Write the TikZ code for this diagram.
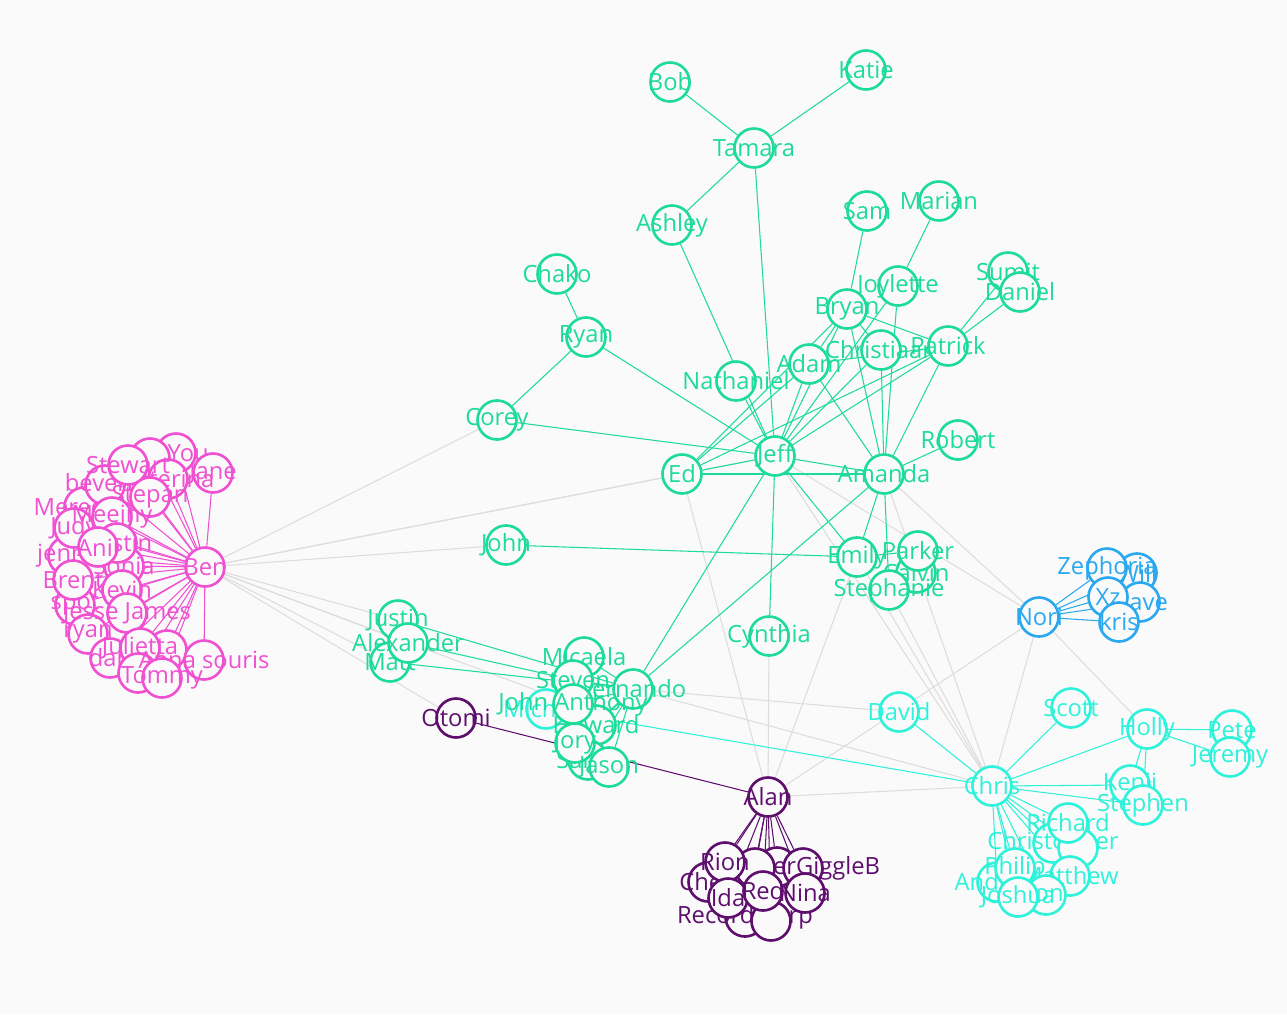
\documentclass[tikz,border=0pt]{standalone}
\usepackage{fontspec}
\setmainfont{Open Sans}
\usepackage{tikz}
\usetikzlibrary{positioning}
\definecolor{paper}{HTML}{FAFAFA}
\definecolor{grnc}{HTML}{1DDB99}
\definecolor{pnkc}{HTML}{F050D2}
\definecolor{prpc}{HTML}{5E0F6E}
\definecolor{cync}{HTML}{2EF2DA}
\definecolor{bluc}{HTML}{2AA8F0}
\definecolor{tiec}{HTML}{DDDDDD}
\newcommand\namefont{\fontsize{13.5}{16}\selectfont}
\pgfdeclarelayer{paperlayer}
\pgfdeclarelayer{tielayer}
\pgfsetlayers{paperlayer,tielayer,main}

\begin{document}
\begin{tikzpicture}[x=0.02cm, y=-0.02cm,
  person/.style={circle, draw=#1, text=#1, fill=paper, minimum size=0.78cm,
    inner sep=0pt, line width=1.5pt, font=\namefont,
    execute at begin node={\hbox to 0pt\bgroup\hss},
    execute at end node={\hss\egroup}},
  greenp/.style={person=grnc}, pinkp/.style={person=pnkc},
  purplep/.style={person=prpc}, cyanp/.style={person=cync},
  bluep/.style={person=bluc},
  tie/.style={draw=#1, line width=0.6pt},
  greentie/.style={tie=grnc}, pinktie/.style={tie=pnkc},
  purpletie/.style={tie=prpc}, cyantie/.style={tie=cync},
  bluetie/.style={tie=bluc}, greytie/.style={tie=tiec}]
\useasboundingbox (0,0) rectangle (1287,1014);
\begin{pgfonlayer}{paperlayer}
\fill[paper] (0,0) rectangle (1287,1014);
\end{pgfonlayer}

% green group, top
\node[greenp] (bob) at (670,82) {Bob};
\node[greenp] (katie) at (866,70) {Katie};
\node[greenp] (tamara) at (754,148) {Tamara};
\node[greenp] (ashley) at (672,225) {Ashley};
\node[greenp] (sam) at (867,211) {Sam};
\node[greenp] (marian) at (939,201) {Marian};
\node[greenp] (chako) at (557,274) {Chako};
\node[greenp] (ryan) at (586,337) {Ryan};
\node[greenp] (sumit) at (1008,272) {Sumit};
\node[greenp] (daniel) at (1020,292) {Daniel};
\node[greenp] (joylette) at (898,286) {Joylette};
\node[greenp] (bryan) at (847,309) {Bryan};
\node[greenp] (christiaan) at (881,350) {Christiaan};
\node[greenp] (adam) at (809,364) {Adam};
\node[greenp] (patrick) at (948,346) {Patrick};
\node[greenp] (nathaniel) at (736,381) {Nathaniel};
\node[greenp] (corey) at (497,420) {Corey};
\node[greenp] (robert) at (958,440) {Robert};
\node[greenp] (jeff) at (775,456) {Jeff};
\node[greenp] (ed) at (682,474) {Ed};
\node[greenp] (amanda) at (884,474) {Amanda};
\node[greenp] (john) at (506,545) {John};
\node[greenp] (calvin) at (916,573) {Calvin};
\node[greenp] (parker) at (918,551) {Parker};
\node[greenp] (emily) at (857,557) {Emily};
\node[greenp] (stephanie) at (889,590) {Stephanie};
\node[greenp] (cynthia) at (769,636) {Cynthia};

% green group, bottom left
\node[greenp] (justin) at (398,620) {Justin};
\node[greenp] (matt) at (390,662) {Matt};
\node[greenp] (alexander) at (408,643) {Alexander};
\node[greenp] (fernando) at (633,689) {Fernando};
\node[greenp] (micaela) at (584,657) {Micaela};
\node[cyanp] (michael) at (546,709) {Michael};
\node[greenp] (howard) at (596,725) {Howard};
\node[greenp] (sarah) at (588,760) {Sarah};
\node[greenp] (steven) at (573,680) {Steven};
\node[greenp] (jory) at (575,743) {Jory};
\node[greenp] (jason) at (609,767) {Jason};
\node[greenp] (johnanthony) at (573,704) {John Anthony};

% pink group
\node[pinkp] (liyou) at (176,453) {Li You};
\node[pinkp] (pblank) at (150,458) {};
\node[pinkp] (meredith) at (84,507) {Meredith};
\node[pinkp] (beverly) at (105,485) {beverly};
\node[pinkp] (jane) at (213,473) {Jane};
\node[pinkp] (katerina) at (168,479) {Katerina};
\node[pinkp] (stepan) at (150,497) {Stepan};
\node[pinkp] (stewart) at (128,465) {Stewart};
\node[pinkp] (jenna) at (68,556) {jenna};
\node[pinkp] (judy) at (74,528) {Judy};
\node[pinkp] (meejny) at (112,517) {Meejny};
\node[pinkp] (sonia) at (124,566) {Sonia};
\node[pinkp] (kristin) at (117,543) {Kristin};
\node[pinkp] (anil) at (98,547) {Anil};
\node[pinkp] (spot) at (75,605) {spot};
\node[pinkp] (brent) at (73,580) {Brent};
\node[pinkp] (kevin) at (122,590) {Kevin};
\node[pinkp] (ryanp) at (88,634) {ryan};
\node[pinkp] (jessejames) at (127,613) {Jesse James};
\node[pinkp] (dan) at (110,658) {dan};
\node[pinkp] (pblankb) at (167,650) {};
\node[pinkp] (julietta) at (140,648) {Julietta};
\node[pinkp] (pblankc) at (138,673) {};
\node[pinkp] (annasouris) at (204,660) {Anna souris};
\node[pinkp] (tommy) at (162,678) {Tommy};
\node[pinkp] (ben) at (205,567) {Ben};

% purple group
\node[purplep] (otomi) at (456,718) {Otomi};
\node[purplep] (chen) at (708,882) {Chen};
\node[purplep] (ublankb) at (777,867) {};
\node[purplep] (giggle) at (803,868) {MisterGiggleB};
\node[purplep] (ublank) at (755,868) {};
\node[purplep] (rion) at (725,862) {Rion};
\node[purplep] (record) at (745,917) {Record Carp};
\node[purplep] (ublankc) at (771,921) {};
\node[purplep] (ida) at (728,898) {Ida};
\node[purplep] (red) at (763,891) {Red};
\node[purplep] (nina) at (805,893) {Nina};
\node[purplep] (alan) at (768,797) {Alan};

% cyan group
\node[cyanp] (david) at (899,712) {David};
\node[cyanp] (scott) at (1071,708) {Scott};
\node[cyanp] (pete) at (1232,730) {Pete};
\node[cyanp] (jeremy) at (1230,757) {Jeremy};
\node[cyanp] (holly) at (1147,729) {Holly};
\node[cyanp] (kenji) at (1130,785) {Kenji};
\node[cyanp] (stephen) at (1143,805) {Stephen};
\node[cyanp] (christopher) at (1053,843) {Christopher};
\node[cyanp] (cblank) at (1078,848) {};
\node[cyanp] (richard) at (1068,823) {Richard};
\node[cyanp] (matthew) at (1070,876) {Matthew};
\node[cyanp] (andrew) at (997,882) {Andrew};
\node[cyanp] (philip) at (1015,868) {Philip};
\node[cyanp] (jon) at (1046,895) {Jon};
\node[cyanp] (joshua) at (1018,897) {Joshua};
\node[cyanp] (chris) at (992,786) {Chris};

% blue group
\node[bluep] (will) at (1137,573) {Will};
\node[bluep] (zephoria) at (1107,568) {Zephoria};
\node[bluep] (dave) at (1140,602) {Dave};
\node[bluep] (xz) at (1108,597) {Xz};
\node[bluep] (kris) at (1119,622) {kris};
\node[bluep] (nori) at (1039,617) {Nori};

% ties
\begin{pgfonlayer}{tielayer}
\foreach \a/\b in {ben/corey, ben/ed, ben/jeff, ben/john, ben/justin,
  ben/alexander, ben/matt, ben/otomi, ben/johnanthony, ed/alan,
  cynthia/alan, alan/emily, alan/nori, alan/chris, fernando/david,
  fernando/chris, emily/chris, stephanie/chris, amanda/chris,
  amanda/nori, jeff/nori, jeff/chris, nori/chris, nori/holly}
  \draw[greytie] (\a) -- (\b);
\foreach \a/\b in {bob/tamara, katie/tamara, tamara/jeff, ashley/tamara,
  ashley/jeff, nathaniel/jeff, chako/ryan, ryan/corey, ryan/jeff,
  corey/jeff, sam/bryan, marian/joylette, joylette/amanda, joylette/jeff,
  bryan/jeff, bryan/ed, bryan/amanda, bryan/patrick, bryan/christiaan,
  bryan/adam, adam/jeff, adam/ed, adam/amanda, adam/patrick,
  christiaan/jeff, christiaan/amanda, patrick/jeff, patrick/amanda,
  patrick/ed, sumit/patrick, daniel/patrick, robert/amanda, jeff/ed,
  jeff/amanda, ed/amanda, jeff/emily, jeff/cynthia, jeff/fernando,
  amanda/fernando, amanda/emily, amanda/stephanie, emily/parker,
  parker/stephanie, john/emily, justin/fernando, alexander/steven,
  matt/fernando, fernando/micaela, fernando/steven, fernando/johnanthony,
  fernando/howard, fernando/jory, fernando/jason, fernando/sarah}
  \draw[greentie] (\a) -- (\b);
\foreach \n in {liyou, pblank, meredith, beverly, jane, katerina, stepan,
  stewart, jenna, judy, meejny, sonia, kristin, anil, spot, brent, kevin,
  ryanp, jessejames, dan, pblankb, julietta, pblankc, annasouris, tommy}
  \draw[pinktie] (ben) -- (\n);
\draw[purpletie] (otomi) -- (alan);
\foreach \n in {chen, ublankb, giggle, ublank, rion, record, ublankc,
  ida, red, nina}
  \draw[purpletie] (alan) -- (\n);
\foreach \n in {david, scott, holly, kenji, stephen, richard, christopher,
  cblank, philip, matthew, andrew, joshua, jon, michael}
  \draw[cyantie] (chris) -- (\n);
\foreach \n in {pete, jeremy, kenji, stephen}
  \draw[cyantie] (holly) -- (\n);
\foreach \n in {zephoria, will, xz, dave, kris}
  \draw[bluetie] (nori) -- (\n);
\end{pgfonlayer}
\end{tikzpicture}
\end{document}
